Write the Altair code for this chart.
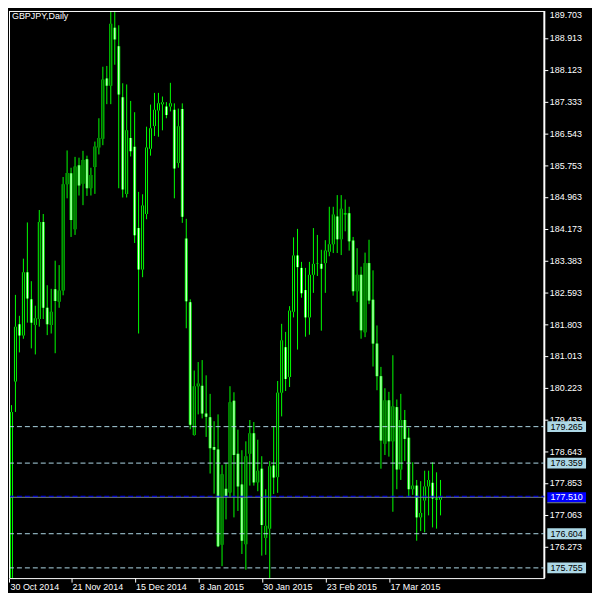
import altair as alt
import pandas as pd

# ---------------- data ----------------
opens = [174.90, 180.39, 181.81, 181.53, 183.10, 182.43, 181.79, 181.94, 184.35, 182.22,
         181.79, 182.68, 182.37, 182.65, 185.29, 185.56, 184.17, 185.76, 185.30, 185.91,
         185.19, 185.72, 186.20, 186.42, 187.92, 187.74, 189.18, 188.72, 187.45, 185.05,
         186.44, 186.22, 184.20, 183.17, 184.55, 186.17, 186.74, 187.12, 187.28, 187.22,
         187.22, 187.14, 185.82, 187.16, 183.94, 182.36, 179.06, 180.27, 180.28, 179.59,
         179.50, 178.76, 178.70, 176.33, 177.72, 177.63, 179.91, 178.59, 177.83, 176.34,
         178.59, 179.10, 177.88, 178.22, 176.50, 176.73, 178.30, 178.01, 180.11, 181.24,
         180.50, 182.12, 183.52, 183.21, 182.66, 181.98, 183.04, 183.31, 183.31, 183.33,
         183.61, 183.80, 184.49, 183.92, 184.57, 184.57, 183.89, 182.63, 183.04, 181.61,
         183.33, 182.42, 181.33, 180.52, 178.84, 179.92, 178.90, 179.75, 178.20, 179.43,
         178.99, 177.71, 177.80, 177.01, 177.43, 177.78, 177.87, 177.48, 177.45]
highs = [179.80, 182.54, 182.02, 183.44, 184.34, 182.88, 182.27, 184.65, 184.55, 182.78,
         182.69, 183.39, 183.28, 185.47, 186.13, 185.70, 185.97, 185.95, 186.12, 186.00,
         185.70, 186.35, 186.93, 188.21, 188.23, 189.72, 189.70, 189.24, 187.80, 187.77,
         187.36, 187.08, 185.10, 185.04, 186.72, 187.27, 187.56, 187.56, 187.47, 187.33,
         187.81, 187.30, 187.17, 187.30, 184.43, 182.43, 180.66, 180.87, 180.92, 180.54,
         180.08, 179.40, 179.57, 178.31, 178.36, 180.27, 180.12, 179.19, 178.68, 178.90,
         179.43, 179.38, 178.94, 178.53, 177.71, 178.41, 179.27, 180.40, 181.82, 181.62,
         182.26, 183.97, 184.18, 183.36, 183.21, 183.36, 184.20, 184.03, 183.66, 183.90,
         184.73, 184.73, 185.02, 185.02, 184.91, 184.73, 183.98, 183.70, 183.24, 183.59,
         183.91, 183.15, 181.78, 180.75, 180.22, 180.13, 181.04, 179.94, 180.08, 179.68,
         179.24, 178.38, 177.94, 177.91, 178.17, 178.17, 178.38, 178.13, 177.94]
lows = [174.70, 179.63, 181.11, 181.45, 181.85, 181.21, 181.06, 181.75, 181.94, 181.54,
        181.58, 181.09, 182.22, 182.53, 184.94, 183.98, 184.03, 185.01, 184.77, 185.00,
        185.01, 185.05, 186.03, 186.26, 187.28, 187.28, 188.26, 185.19, 184.96, 184.96,
        185.98, 183.83, 181.58, 182.98, 184.42, 186.00, 186.49, 186.47, 186.63, 186.93,
        187.10, 184.94, 185.70, 184.33, 181.71, 179.20, 179.04, 179.57, 179.47, 179.01,
        178.10, 177.60, 176.27, 175.80, 176.96, 177.52, 177.01, 177.17, 176.10, 175.71,
        177.80, 177.80, 177.66, 176.06, 176.08, 175.50, 177.59, 177.62, 179.52, 180.15,
        180.25, 181.98, 181.18, 182.47, 181.50, 181.55, 182.59, 183.01, 181.65, 182.59,
        183.50, 183.58, 183.58, 183.53, 184.12, 183.64, 182.52, 182.36, 181.45, 181.49,
        182.31, 180.76, 180.17, 178.22, 178.56, 178.52, 177.15, 177.71, 177.94, 178.41,
        177.52, 177.57, 176.43, 176.67, 176.64, 177.06, 176.76, 176.73, 177.06]
closes = [179.63, 181.75, 181.53, 183.10, 182.45, 181.85, 181.96, 184.35, 182.22, 181.81,
          182.12, 182.39, 182.65, 185.29, 185.57, 184.40, 185.73, 185.26, 185.89, 185.19,
          185.52, 186.23, 186.44, 187.89, 187.74, 189.28, 188.89, 187.52, 185.16, 186.63,
          186.11, 184.02, 183.17, 184.76, 186.20, 186.68, 187.14, 187.30, 187.33, 187.01,
          187.30, 185.68, 186.73, 184.48, 182.38, 179.31, 180.27, 180.34, 179.59, 179.51,
          178.73, 178.69, 176.29, 178.08, 177.54, 179.87, 178.56, 177.78, 176.43, 178.53,
          179.10, 177.88, 178.17, 176.82, 176.80, 178.28, 178.00, 180.11, 181.41, 180.45,
          182.15, 183.52, 183.23, 182.58, 181.98, 183.04, 183.31, 183.32, 183.19, 183.64,
          183.80, 184.54, 183.92, 184.68, 184.54, 183.87, 182.63, 183.04, 181.66, 183.33,
          182.40, 181.33, 180.52, 178.92, 179.92, 178.90, 179.77, 178.20, 179.43, 178.96,
          177.71, 177.80, 177.01, 177.12, 177.78, 177.94, 177.48, 177.45, 177.51]

tick_bars = [-1, 15, 31, 47, 63, 79, 95]
tick_labels = ["30 Oct 2014", "21 Nov 2014", "15 Dec 2014", "8 Jan 2015",
               "30 Jan 2015", "23 Feb 2015", "17 Mar 2015"]
price_ticks = [189.703, 188.913, 188.123, 187.333, 186.543, 185.753, 184.963, 184.173,
               183.383, 182.593, 181.803, 181.013, 180.223, 179.433, 178.643, 177.853,
               177.063, 176.273]
level_prices = [179.265, 178.359, 176.604, 175.755]
bid_price = [177.510]
chart_title = "GBPJPY,Daily"

# ---------------- layout ----------------
W, H = 539, 571
X_DOM = [-0.625, 134.125]          # 4 px per bar, bar centres on half pixels
Y_DOM = [175.501, 189.596]
FONT = "Liberation Sans"
GREEN = "#00FF00"
LBLUE = "#ADD8E6"

df = pd.DataFrame({
    "bar": list(range(len(opens))),
    "open": opens, "high": highs, "low": lows, "close": closes,
})
df["dir"] = ["bull" if c >= o else "bear" for o, c in zip(opens, closes)]

tick_vals = [max(t, X_DOM[0]) for t in tick_bars]
lab_expr = "[" + ",".join("'%s'" % s for s in tick_labels) + "][indexof([" + \
    ",".join(str(v) for v in tick_vals) + "], datum.value)]"

x_scale = alt.Scale(domain=X_DOM, nice=False, zero=False, padding=0)
x_enc = alt.X("bar:Q", scale=x_scale,
              axis=alt.Axis(values=tick_vals, labelExpr=lab_expr, title=None, grid=False,
                            domainColor="white", domainWidth=1, tickColor="white",
                            tickSize=4, labelColor="white", labelFont=FONT, labelFontSize=9,
                            labelAlign="left", labelBaseline="top", labelPadding=0,
                            labelOffset=1, labelFlush=False, labelOverlap=False,
                            labelBound=False))

in_dom = [p for p in price_ticks if Y_DOM[0] <= p <= Y_DOM[1]]
out_dom = [p for p in price_ticks if p > Y_DOM[1]]
y_scale = alt.Scale(domain=Y_DOM, nice=False, zero=False, padding=0)
y_axis = alt.Axis(orient="right", values=in_dom, format=".3f", title=None, grid=False,
                  domainColor="white", domainWidth=2, tickColor="white", tickSize=4,
                  labelColor="white", labelFont=FONT, labelFontSize=9, labelPadding=1.5,
                  labelOverlap=False, labelFlush=False, labelBound=False, translate=0)

base = alt.Chart(df)

wicks = base.mark_rule(color=GREEN, strokeWidth=1, clip=True).encode(
    x=x_enc, y=alt.Y("low:Q", scale=y_scale, axis=y_axis), y2="high:Q")

bodies = base.mark_bar(size=3, color=GREEN, clip=True).encode(
    x=x_enc, y=alt.Y("open:Q", scale=y_scale, axis=y_axis), y2="close:Q")

inner = base.transform_filter(
    "abs(datum.close - datum.open) > 0.05"
).mark_rule(strokeWidth=1, clip=True).encode(
    x=x_enc, y=alt.Y("open:Q", scale=y_scale, axis=y_axis), y2="close:Q",
    color=alt.Color("dir:N", scale=alt.Scale(domain=["bull", "bear"], range=["black", "white"]),
                    legend=None))

lev_df = pd.DataFrame({"price": level_prices,
                       "label": ["%.3f" % p for p in level_prices]})
bid_df = pd.DataFrame({"price": bid_price, "label": ["%.3f" % p for p in bid_price]})
top_df = pd.DataFrame({"label": ["%.3f" % p for p in out_dom]})
title_df = pd.DataFrame({"label": [chart_title]})
frame_df = pd.DataFrame({"side": ["top", "left"]})

ly = alt.Y("price:Q", scale=y_scale, axis=y_axis)

top_border = alt.Chart(frame_df).transform_filter("datum.side == 'top'").mark_rule(
    color="white", strokeWidth=1).encode(y=alt.value(0.5), x=alt.value(0), x2=alt.value(W))
left_border = alt.Chart(frame_df).transform_filter("datum.side == 'left'").mark_rule(
    color="white", strokeWidth=1).encode(x=alt.value(0.5), y=alt.value(0), y2=alt.value(H))

lev_lines = alt.Chart(lev_df).mark_rule(color=LBLUE, strokeWidth=1, strokeDash=[5, 3]).encode(
    y=ly, x=alt.value(0), x2=alt.value(W))
bid_gray = alt.Chart(bid_df).mark_rule(color="#778899", strokeWidth=1).encode(
    y=ly, x=alt.value(0), x2=alt.value(W))
bid_blue = alt.Chart(bid_df).mark_rule(color="#0000FF", strokeWidth=1, strokeDash=[5, 3],
                                       yOffset=-1).encode(
    y=ly, x=alt.value(0), x2=alt.value(W))

lev_box = alt.Chart(lev_df).mark_rule(color=LBLUE, strokeWidth=11).encode(
    y=ly, x=alt.value(542), x2=alt.value(581))
lev_txt = alt.Chart(lev_df).mark_text(color="black", font=FONT, fontSize=9, align="center",
                                      baseline="middle").encode(
    y=ly, x=alt.value(561.5), text="label:N")
bid_box = alt.Chart(bid_df).mark_rule(color="#0000FF", strokeWidth=10).encode(
    y=ly, x=alt.value(542), x2=alt.value(581))
bid_line2 = alt.Chart(bid_df).mark_rule(color="#778899", strokeWidth=1, yOffset=5.5).encode(
    y=ly, x=alt.value(542), x2=alt.value(581))
bid_txt = alt.Chart(bid_df).mark_text(color="white", font=FONT, fontSize=9, align="center",
                                      baseline="middle").encode(
    y=ly, x=alt.value(561.5), text="label:N")

top_txt = alt.Chart(top_df).mark_text(color="white", font=FONT, fontSize=9, align="left",
                                      baseline="top").encode(
    x=alt.value(544.5), y=alt.value(0), text="label:N")
title_txt = alt.Chart(title_df).mark_text(color="white", font=FONT, fontSize=9, align="left",
                                          baseline="top").encode(
    x=alt.value(3), y=alt.value(1), text="label:N")

chart = alt.layer(
    wicks, bodies, inner, lev_lines, bid_gray, bid_blue, top_border, left_border,
    lev_box, lev_txt, bid_box, bid_line2, bid_txt, top_txt, title_txt
).properties(
    width=W, height=H,
    padding={"left": 0, "top": 0, "right": 0, "bottom": 0},
    background="black",
).configure_view(stroke="transparent", strokeWidth=0)

chart.save("out.html", embed_options={"renderer": "svg", "actions": False})
